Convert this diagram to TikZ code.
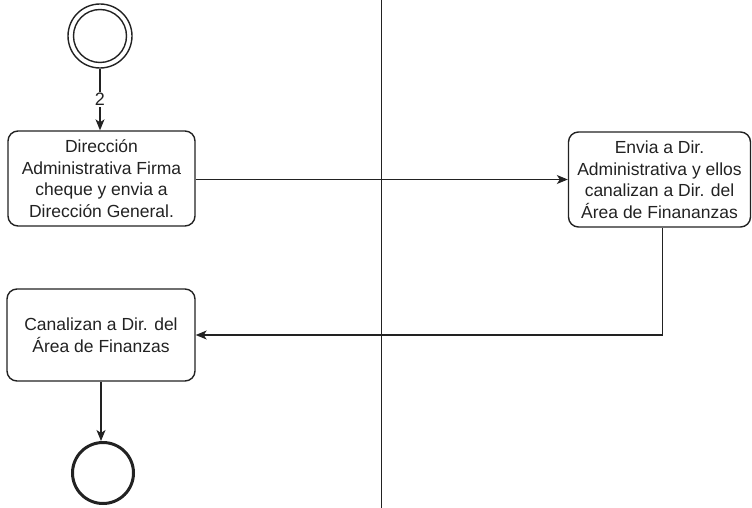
\documentclass[tikz,border=0pt]{standalone}
\usepackage{fontspec}
\setmainfont{Liberation Sans}
\usetikzlibrary{arrows.meta,calc}
\definecolor{ink}{HTML}{222222}
\begin{document}
\begin{tikzpicture}[x=1pt,y=-1pt,
  every node/.style={text=ink},
  task/.style={draw=ink,line width=1.4pt,rounded corners=10pt,align=center,
    font=\fontsize{17.5}{21.5}\selectfont,inner sep=0pt},
  flow/.style={draw=ink,line width=1.1pt,-{Stealth[length=11pt,width=9pt,inset=3pt]}},
  lane/.style={draw=ink,line width=1pt}]
\useasboundingbox (0,0) rectangle (752,508);
% swimlane divider
\coordinate (laneTop) at (381,0);
\coordinate (laneBot) at (381,508);
\draw[lane] (laneTop) -- (laneBot);
% start event (double circle)
\node[circle,draw=ink,line width=1.4pt,minimum size=64pt,inner sep=0pt] (start) at (100,36) {};
\node[circle,draw=ink,line width=1.4pt,minimum size=53pt,inner sep=0pt] (startin) at (100,36) {};
% tasks
\node[task,minimum width=187pt,minimum height=95pt] (b1) at (101.5,178.5)
  {Dirección\\Administrativa Firma\\cheque y envia a\\Dirección General.};
\node[task,minimum width=182pt,minimum height=95pt] (b2) at (659.5,179.5)
  {Envia a Dir.\\Administrativa y ellos\\canalizan a Dir. del\\Área de Finananzas};
\node[task,minimum width=188pt,minimum height=92pt] (b3) at (101,335)
  {Canalizan a Dir. del\\Área de Finanzas};
% end event
\node[circle,draw=ink,line width=3pt,minimum size=61pt,inner sep=0pt] (end) at (103,473) {};
% connectors
\draw[flow] (start.south) -- node[fill=white,inner sep=1pt,font=\fontsize{18}{18}\selectfont] {2} (start.south |- b1.north);
\draw[flow] (b2.west -| b1.east) -- (b2.west);
\draw[flow] ($(b2.south)+(3,0)$) |- (b3.east);
\draw[flow] (b3.south) -- (b3.south |- end.north);
\end{tikzpicture}
\end{document}
